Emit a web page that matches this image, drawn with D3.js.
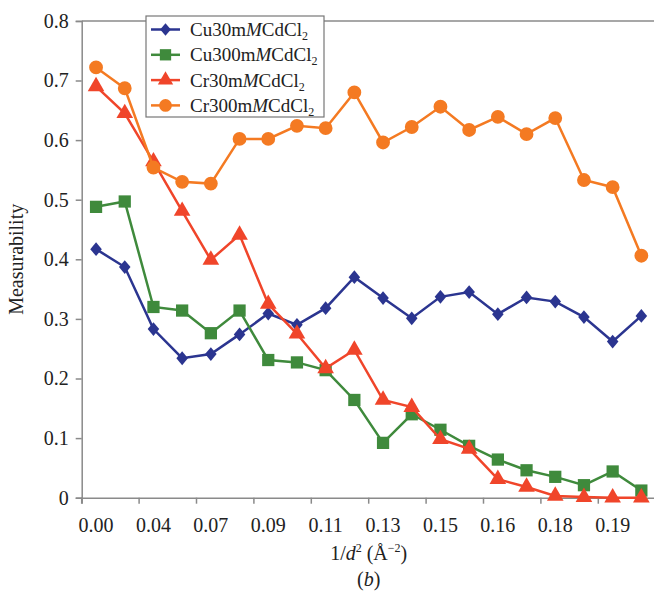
<!DOCTYPE html>
<html>
<head>
<meta charset="utf-8">
<script src="https://cdn.jsdelivr.net/npm/d3@7"></script>
<style>
  body { margin: 0; background: #fff; }
  svg { display: block; font-family: "Liberation Serif", "DejaVu Serif", serif; }
</style>
</head>
<body>
<svg id="chart" width="654" height="594"></svg>
<script>
// data
var categories = ['0.00', '0.02', '0.04', '0.05', '0.07', '0.08', '0.09', '0.10', '0.11', '0.12',
                  '0.13', '0.14', '0.15', '0.155', '0.16', '0.17', '0.18', '0.185', '0.19', '0.20'];
var cu30 = [0.417, 0.387, 0.283, 0.234, 0.241, 0.274, 0.309, 0.290, 0.318, 0.370,
            0.335, 0.301, 0.337, 0.345, 0.308, 0.336, 0.329, 0.303, 0.262, 0.305];
var cu300 = [0.488, 0.497, 0.320, 0.314, 0.276, 0.314, 0.231, 0.227, 0.214, 0.164,
             0.092, 0.140, 0.114, 0.087, 0.064, 0.046, 0.035, 0.021, 0.044, 0.012];
var cr30 = [0.690, 0.645, 0.564, 0.481, 0.399, 0.441, 0.325, 0.275, 0.217, 0.248,
            0.164, 0.152, 0.098, 0.082, 0.031, 0.018, 0.003, 0.001, 0.000, 0.000];
var cr300 = [0.722, 0.687, 0.554, 0.530, 0.527, 0.602, 0.602, 0.624, 0.620, 0.680,
             0.596, 0.622, 0.656, 0.617, 0.639, 0.610, 0.637, 0.533, 0.521, 0.406];
var yTicks = [0, 0.1, 0.2, 0.3, 0.4, 0.5, 0.6, 0.7, 0.8];

var series = [
  { name: 'Cu30', values: cu30, color: '#2b3590', shape: d3.symbolDiamond, size: 55 },
  { name: 'Cu300', values: cu300, color: '#3f8a3c', shape: d3.symbolSquare, size: 150 },
  { name: 'Cr30', values: cr30, color: '#f0452a', shape: d3.symbolTriangle, size: 120 },
  { name: 'Cr300', values: cr300, color: '#f47a22', shape: d3.symbolCircle, size: 150 }
];

var svg = d3.select('#chart');
var plotLeft = 81.7, plotRight = 655.7, plotTop = 20.9, plotBottom = 497.7;

var x = d3.scaleBand().domain(categories).range([plotLeft, plotRight]).padding(0);
var y = d3.scaleLinear().domain([0, 0.8]).range([plotBottom, plotTop]);

// diamonds are a bit squatter than d3's default
function markScale(s) {
  return s.shape === d3.symbolDiamond ? ' scale(1.45,1)' : '';
}

// top border of the plot area
svg.append('line')
  .attr('x1', plotLeft).attr('x2', plotRight)
  .attr('y1', plotTop).attr('y2', plotTop)
  .attr('stroke', '#8a8a8a').attr('stroke-width', 1.5);

// y axis
var yAxis = svg.append('g')
  .attr('transform', 'translate(' + plotLeft + ',0)')
  .call(d3.axisLeft(y).tickValues(yTicks).tickSizeOuter(0).tickSize(6).tickPadding(7)
    .tickFormat(function(d) { return d === 0 ? '0' : d3.format('.1f')(d); }));
yAxis.select('.domain').attr('stroke', '#8a8a8a').attr('stroke-width', 1.5);
yAxis.selectAll('.tick line').attr('stroke', '#8a8a8a').attr('stroke-width', 1.5);
yAxis.selectAll('.tick text')
  .attr('font-family', '"Liberation Serif", serif')
  .attr('font-size', 20).attr('fill', '#222');

// x axis, labels on every other category, ticks on band edges
var shown = categories.filter(function(d, i) { return i % 2 === 0; });
var xAxis = svg.append('g')
  .attr('transform', 'translate(0,' + plotBottom + ')')
  .call(d3.axisBottom(x).tickValues(shown).tickSizeOuter(0).tickSize(6).tickPadding(14));
xAxis.select('.domain').attr('stroke', '#8a8a8a').attr('stroke-width', 1.5);
xAxis.selectAll('.tick line')
  .attr('x1', -x.bandwidth() / 2).attr('x2', -x.bandwidth() / 2)
  .attr('stroke', '#8a8a8a').attr('stroke-width', 1.5);
xAxis.selectAll('.tick text')
  .attr('font-family', '"Liberation Serif", serif')
  .attr('font-size', 20).attr('fill', '#222');

// lines and markers
var line = d3.line()
  .x(function(d, i) { return x(categories[i]) + x.bandwidth() / 2; })
  .y(function(d) { return y(d); });

series.forEach(function(s) {
  var g = svg.append('g');
  g.append('path')
    .attr('d', line(s.values))
    .attr('fill', 'none')
    .attr('stroke', s.color)
    .attr('stroke-width', 2.5);
  g.selectAll('path.mark')
    .data(s.values)
    .enter().append('path')
    .attr('class', 'mark')
    .attr('d', d3.symbol().type(s.shape).size(s.size))
    .attr('transform', function(d, i) {
      return 'translate(' + (x(categories[i]) + x.bandwidth() / 2) + ',' + y(d) + ')' + markScale(s);
    })
    .attr('fill', s.color);
});

// legend
var legend = svg.append('g');
legend.append('rect')
  .attr('x', 146).attr('y', 16).attr('width', 178).attr('height', 101)
  .attr('fill', '#fff').attr('stroke', '#777').attr('stroke-width', 1.2);

series.forEach(function(s, i) {
  var cy = 29.5 + i * 25.3;
  legend.append('line')
    .attr('x1', 151).attr('x2', 180).attr('y1', cy).attr('y2', cy)
    .attr('stroke', s.color).attr('stroke-width', 2.5);
  legend.append('path')
    .attr('d', d3.symbol().type(s.shape).size(s.size * 0.85))
    .attr('transform', 'translate(165.5,' + cy + ')' + markScale(s))
    .attr('fill', s.color);
  var t = legend.append('text')
    .attr('x', 190).attr('y', cy + 6.5)
    .attr('font-size', 19).attr('fill', '#222');
  var head = s.name.slice(0, 2), num = s.name.slice(2);
  t.append('tspan').text(head + num + 'm');
  t.append('tspan').attr('font-style', 'italic').text('M');
  t.append('tspan').text('CdCl');
  t.append('tspan').attr('font-size', 12).attr('dy', 4).text('2');
});

// axis titles
var xt = svg.append('text')
  .attr('x', (plotLeft + plotRight) / 2).attr('y', 560)
  .attr('text-anchor', 'middle').attr('font-size', 20).attr('fill', '#222');
xt.append('tspan').text('1/');
xt.append('tspan').attr('font-style', 'italic').text('d');
xt.append('tspan').attr('font-size', 12).attr('dy', -8).text('2');
xt.append('tspan').attr('dy', 8).text(' (Å');
xt.append('tspan').attr('font-size', 12).attr('dy', -8).text('\u22122');
xt.append('tspan').attr('dy', 8).text(')');

var sub = svg.append('text')
  .attr('x', (plotLeft + plotRight) / 2).attr('y', 586)
  .attr('text-anchor', 'middle').attr('font-size', 20).attr('fill', '#222');
sub.append('tspan').text('(');
sub.append('tspan').attr('font-style', 'italic').text('b');
sub.append('tspan').text(')');

svg.append('text')
  .attr('transform', 'translate(23,' + (plotTop + plotBottom) / 2 + ') rotate(-90)')
  .attr('text-anchor', 'middle').attr('font-size', 20).attr('fill', '#222')
  .text('Measurability');
</script>
</body>
</html>
